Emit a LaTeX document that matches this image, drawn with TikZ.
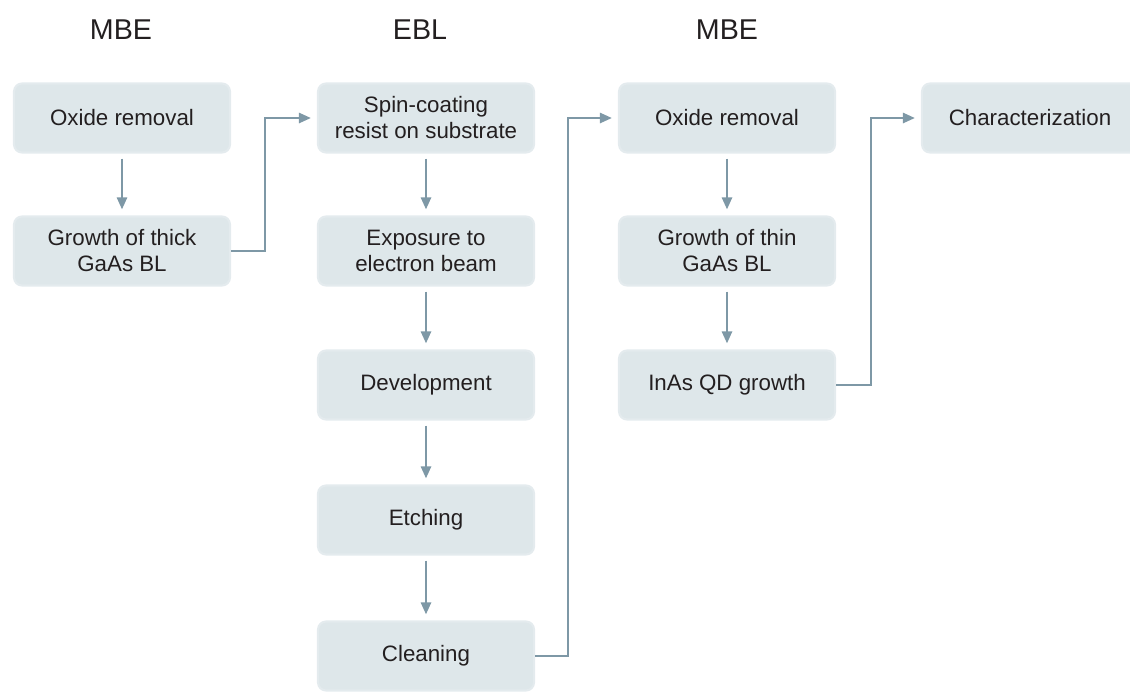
\documentclass[tikz,border=0pt]{standalone}
\usepackage{fontspec}
\setmainfont{Liberation Sans}
\usepackage{xcolor}
\usetikzlibrary{positioning,arrows.meta}
\definecolor{stepfill}{RGB}{222,231,234}
\definecolor{stepedge}{RGB}{228,235,238}
\definecolor{flowgray}{RGB}{126,152,166}
\definecolor{inkgray}{RGB}{35,31,32}

\begin{document}
\begin{tikzpicture}[x=0.02cm,y=-0.02cm,>={Triangle[length=0.24cm,width=0.2cm]},
  stepbox/.style={rectangle,rounded corners=0.16cm,fill=stepfill,draw=stepedge,line width=1.2pt,
    minimum width=4.32cm,minimum height=1.38cm,align=center,text=inkgray,
    font=\fontsize{12.7}{14.8}\selectfont},
  phase/.style={text=inkgray,font=\fontsize{16.3}{18}\selectfont},
  flow/.style={->,draw=flowgray,line width=1.4pt}]
\useasboundingbox (0,0) rectangle (1130,694);
% phase headings
\node[phase] (mbeA) at (121,30) {MBE};
\node[phase] (ebl) at (420,30) {EBL};
\node[phase] (mbeB) at (727,30) {MBE};
% MBE, first run
\node[stepbox] (oxA) at (122,118) {Oxide removal};
\node[stepbox] (thick) at (122,251) {Growth of thick\\GaAs BL};
% EBL
\node[stepbox] (spin) at (426,118) {Spin-coating\\resist on substrate};
\node[stepbox] (expo) at (426,251) {Exposure to\\electron beam};
\node[stepbox] (devel) at (426,385) {Development};
\node[stepbox] (etch) at (426,520) {Etching};
\node[stepbox] (clean) at (426,656) {Cleaning};
% MBE, regrowth
\node[stepbox] (oxB) at (727,118) {Oxide removal};
\node[stepbox] (thin) at (727,251) {Growth of thin\\GaAs BL};
\node[stepbox] (qd) at (727,385) {InAs QD growth};
\node[stepbox] (char) at (1030,118) {Characterization};
% connectors
\foreach \a/\b in {oxA/thick,spin/expo,expo/devel,devel/etch,etch/clean,oxB/thin,thin/qd}{
  \draw[flow,shorten <=0.1cm,shorten >=0.12cm] (\a) -- (\b);}
\draw[flow,shorten >=0.12cm] (thick.east) -- ++(34,0) |- (spin.west);
\draw[flow,shorten >=0.12cm] (clean.east) -- ++(33,0) |- (oxB.west);
\draw[flow,shorten >=0.12cm] (qd.east) -- ++(35,0) |- (char.west);
\end{tikzpicture}
\end{document}
